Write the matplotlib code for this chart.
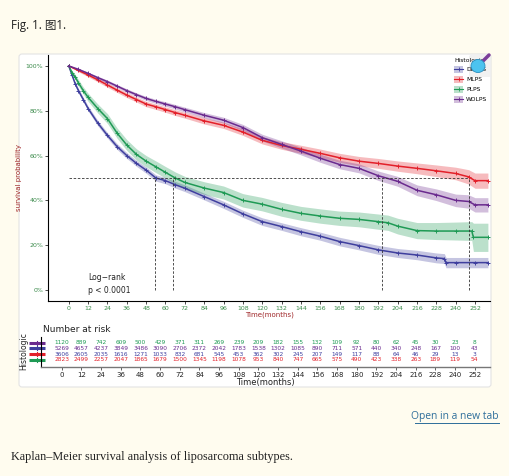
import matplotlib.pyplot as plt
import numpy as np
from matplotlib.patches import FancyBboxPatch, Patch, Circle
from matplotlib.lines import Line2D
from matplotlib.legend_handler import HandlerTuple

# ---- data ----
groups = ['DDLPS', 'MLPS', 'PLPS', 'WDLPS']
colors = {'DDLPS': '#3f3f9e', 'MLPS': '#e3202a', 'PLPS': '#1f9a55', 'WDLPS': '#6a2a8e'}

t_dd = [0, 2, 4, 6, 9, 12, 18, 24, 30, 36, 42, 48, 54, 60, 66, 72, 84, 96, 108, 120,
        132, 144, 156, 168, 180, 192, 204, 216, 228, 233, 234, 240, 252, 260]
s_dd = [100, 96, 92, 89, 85, 81, 74.5, 69, 64, 60, 56.5, 53.5, 50, 48.8, 47, 45.4, 41.7, 38, 34, 30.5,
        28.3, 26, 24, 21.6, 19.8, 17.9, 16.5, 15.6, 14.3, 14, 12.2, 12.2, 12.2, 12.2]
ci_dd = [0, 0.6, 0.8, 1, 1, 1.1, 1.2, 1.2, 1.3, 1.3, 1.3, 1.4, 1.4, 1.4, 1.5, 1.5, 1.5, 1.6, 1.6, 1.7,
         1.7, 1.8, 1.8, 1.9, 1.9, 2, 2, 2.1, 2.2, 2.2, 2.3, 2.3, 2.3, 2.3]

t_ml = [0, 6, 12, 18, 24, 30, 36, 42, 48, 54, 60, 66, 72, 84, 96, 108, 120, 132, 144, 156,
        168, 180, 192, 204, 216, 228, 240, 248, 252, 260]
s_ml = [100, 98, 96, 93.8, 91.5, 89.2, 87, 85, 83, 81.8, 80.5, 79.2, 78, 75.5, 73.5, 70.5, 66.8, 64.5, 62.8, 61,
        59, 57.5, 56.5, 55.3, 54.3, 53.2, 52, 50.5, 48.8, 48.8]
ci_ml = [0, 0.6, 0.8, 0.9, 1, 1, 1.1, 1.1, 1.2, 1.2, 1.2, 1.3, 1.3, 1.4, 1.4, 1.5, 1.6, 1.7, 1.8, 1.9,
         2, 2.1, 2.2, 2.3, 2.4, 2.6, 2.8, 3.2, 3.4, 3.4]

t_pl = [0, 2, 4, 6, 9, 12, 18, 24, 30, 36, 42, 48, 54, 60, 66, 72, 84, 96, 108, 120,
        132, 144, 156, 168, 180, 192, 198, 204, 216, 228, 240, 250, 251, 260]
s_pl = [100, 97, 95, 92.5, 89, 86, 81, 76.5, 70, 64.7, 60.5, 57.5, 55, 52.5, 50, 48, 45.5, 43.5, 40, 38.3,
        36, 34.2, 33, 32, 31.5, 30.5, 30, 28.5, 26.5, 26.3, 26.3, 26.3, 23.5, 23.5]
ci_pl = [0, 1, 1.2, 1.4, 1.6, 1.8, 2, 2.2, 2.3, 2.4, 2.5, 2.5, 2.6, 2.6, 2.7, 2.7, 2.8, 2.9, 3, 3,
         3.1, 3.1, 3.2, 3.2, 3.3, 3.4, 3.4, 3.5, 3.6, 3.8, 4, 4.2, 6.3, 6.3]

t_wd = [0, 6, 12, 18, 24, 30, 36, 42, 48, 54, 60, 66, 72, 84, 96, 108, 120, 132, 144, 156,
        168, 180, 192, 204, 216, 228, 240, 248, 252, 260]
s_wd = [100, 98.5, 96.7, 94.8, 93, 91, 89, 87.2, 85.5, 84.2, 83, 81.8, 80.5, 78, 75.8, 72.5, 68, 65, 62, 58.8,
        56, 54.3, 51, 48.5, 44.5, 42.5, 40, 39.5, 38, 38]
ci_wd = [0, 0.4, 0.5, 0.6, 0.7, 0.7, 0.8, 0.8, 0.9, 0.9, 1, 1, 1.1, 1.2, 1.3, 1.4, 1.5, 1.6, 1.7, 1.8,
         1.9, 2, 2.1, 2.2, 2.4, 2.6, 2.8, 3, 3.2, 3.2]

curves = {
    'DDLPS': (t_dd, s_dd, ci_dd),
    'MLPS': (t_ml, s_ml, ci_ml),
    'PLPS': (t_pl, s_pl, ci_pl),
    'WDLPS': (t_wd, s_wd, ci_wd),
}

medians = [53.5, 64.5, 194, 248]

risk_times = list(range(0, 253, 12))
risk_rows = [
    [1120, 889, 742, 609, 500, 429, 371, 311, 269, 239, 209, 182, 155, 132, 109, 92, 80, 62, 45, 30, 23, 8],
    [5269, 4657, 4237, 3849, 3486, 3090, 2706, 2372, 2042, 1783, 1538, 1302, 1085, 890, 711, 571, 440, 340, 248, 167, 100, 43],
    [3606, 2605, 2035, 1616, 1271, 1033, 832, 681, 545, 453, 362, 302, 245, 207, 149, 117, 88, 64, 46, 29, 13, 3],
    [2823, 2499, 2257, 2047, 1865, 1679, 1500, 1345, 1198, 1078, 953, 840, 747, 665, 575, 490, 423, 338, 263, 189, 119, 54],
]
risk_text_colors = ['#1f9a55', '#6a2a8e', '#3f3f9e', '#e3202a']
risk_bar_colors = ['#6a2a8e', '#3f3f9e', '#e3202a', '#1f9a55']

W, H = 510, 476
def fx(px):
    return px / W
def fy(py):
    return (H - py) / H

fig = plt.figure(figsize=(5.1, 4.76), dpi=100)
fig.patch.set_facecolor('#fffcef')

# white panel behind the figure
panel = FancyBboxPatch((fx(19), fy(387)), fx(491) - fx(19), fy(54) - fy(387),
                       boxstyle='round,pad=0,rounding_size=0.006', transform=fig.transFigure,
                       facecolor='white', edgecolor='#e4e4e4', lw=0.8, zorder=-5)
fig.patches.append(panel)

# page texts
fig.text(fx(11), fy(26), 'Fig. 1. 图1.', family=['Open Sans', 'Noto Sans CJK SC'],
         fontsize=8.3, color='#222222', va='center', ha='left')
fig.text(fx(499), fy(416), 'Open in a new tab', family='Open Sans', fontsize=7.4,
         color='#2d6d9a', va='center', ha='right')
fig.add_artist(Line2D([fx(415), fx(499)], [fy(422.5), fy(422.5)], color='#2d6d9a', lw=0.7,
                      transform=fig.transFigure))
fig.text(fx(11), fy(457), 'Kaplan\u2013Meier survival analysis of liposarcoma subtypes.',
         family='Liberation Serif', fontsize=8.8, color='#222222', va='center', ha='left')

# ---- main KM plot ----
ax = fig.add_axes([fx(48.3), fy(300.7), fx(490) - fx(48.3), fy(55) - fy(300.7)])
ax.set_facecolor('none')
for g in groups:
    t, s, c = curves[g]
    t = np.array(t); s = np.array(s); c = np.array(c)
    ax.fill_between(t, s - c, s + c, color=colors[g], alpha=0.3, lw=0)
    ax.plot(t, s, color=colors[g], lw=1.1, marker='+', ms=3.5, mew=0.7)

ax.plot([0, max(medians)], [50, 50], ls=(0, (3, 2)), color='#333333', lw=0.6)
for m in medians:
    ax.plot([m, m], [0, 50], ls=(0, (3, 2)), color='#333333', lw=0.6)

ax.text(12, 2.6, 'Log\u2212rank\np < 0.0001', fontsize=5.5, ha='left', va='center',
        color='#222222', linespacing=1.5)

ax.set_xlim(-12.7, 261.3)
ax.set_ylim(-4.8, 104.9)
ax.set_xticks(risk_times)
ax.set_yticks([0, 20, 40, 60, 80, 100])
ax.set_yticklabels(['0%', '20%', '40%', '60%', '80%', '100%'])
ax.tick_params(labelsize=4.5, labelcolor='#3a8a4a', length=2, width=0.5, pad=1.5)
for sp in ['top', 'right']:
    ax.spines[sp].set_visible(False)
for sp in ['left', 'bottom']:
    ax.spines[sp].set_linewidth(0.8)
ax.set_ylabel('survival probability', fontsize=5, color='#a0282a', labelpad=3)
ax.set_xlabel('Time(months)', fontsize=5, color='#a0282a', labelpad=1)

handles = [(Patch(facecolor=colors[g], alpha=0.3, lw=0),
            Line2D([], [], color=colors[g], marker='+', ms=3, mew=0.6, lw=0.8)) for g in groups]
leg = fig.legend(handles, groups, loc='upper left', bbox_to_anchor=(fx(450), fy(54)),
                 title='Histologic', fontsize=4.3, title_fontsize=4.3, frameon=False,
                 handler_map={tuple: HandlerTuple(ndivide=1, pad=0)},
                 handlelength=1.5, handleheight=1.5, labelspacing=0.45, borderpad=0.2,
                 handletextpad=0.5, alignment='left')

# magnifier overlay on the legend
fig.patches.append(FancyBboxPatch((fx(469), fy(77)), fx(491) - fx(469), fy(55) - fy(77),
                                  boxstyle='round,pad=0,rounding_size=0.004',
                                  transform=fig.transFigure, facecolor='#eeeeee',
                                  edgecolor='none', alpha=0.8, zorder=5))
fig.add_artist(Line2D([fx(483), fx(489)], [fy(61), fy(55)], color='#7b3d9a', lw=2.5,
                      solid_capstyle='round', transform=fig.transFigure, zorder=6))
fig.add_artist(Circle((fx(478), fy(66)), fx(7), transform=fig.transFigure,
                      facecolor='#4cc3ef', edgecolor='#2a8fc0', lw=0.6, zorder=7))

# ---- number at risk table ----
rax = fig.add_axes([fx(41), fy(366.7), fx(490) - fx(41), fy(337) - fy(366.7)])
rax.set_facecolor('none')
rax.set_xlim(-12.7, 261.3)
rax.set_ylim(-0.23, 5.0)
row_y = [4, 3, 2, 1]
for vals, y, tc in zip(risk_rows, row_y, risk_text_colors):
    for t, v in zip(risk_times, vals):
        rax.text(t, y, str(v), fontsize=4.2, color=tc, ha='center', va='center')
for y, bc in zip(row_y, risk_bar_colors):
    rax.plot([-20, -10.5], [y, y], color=bc, lw=2.2, clip_on=False, solid_capstyle='butt')
    rax.plot([-15.2, -15.2], [y - 0.35, y + 0.35], color=bc, lw=0.8, clip_on=False)
rax.set_xticks(risk_times)
rax.set_yticks([])
rax.tick_params(labelsize=5, length=2, width=0.5, pad=1.5, colors='#222222')
for sp in ['top', 'right']:
    rax.spines[sp].set_visible(False)
rax.spines['bottom'].set_color('#777777')
rax.spines['bottom'].set_linewidth(1.0)
rax.spines['left'].set_linewidth(0.8)
rax.set_xlabel('Time(months)', fontsize=6, color='#222222', labelpad=0.5)
fig.text(fx(43), fy(329), 'Number at risk', fontsize=6.5, color='#222222', ha='left', va='center')
fig.text(fx(24), fy(351), 'Histologic', fontsize=5.5, rotation=90, color='#222222',
         ha='center', va='center')

fig.savefig('out.png', dpi=100, facecolor=fig.get_facecolor())
